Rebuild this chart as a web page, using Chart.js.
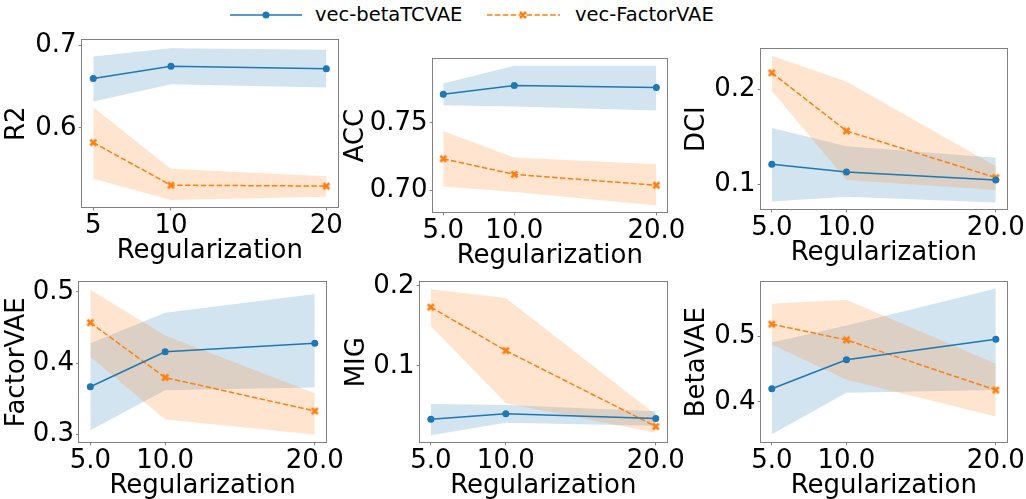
<!DOCTYPE html>
<html lang="en">
<head>
    <meta charset="UTF-8">
    <title>Regularization sweep</title>
    <script src="https://cdn.jsdelivr.net/npm/chart.js"></script>
    <style>
        * { margin: 0; padding: 0; box-sizing: border-box; }
        body {
            width: 1026px;
            height: 499px;
            overflow: hidden;
            background: #fff;
            position: relative;
            font-family: 'DejaVu Sans', sans-serif;
        }
        canvas { position: absolute; }
        .legend-line { position: absolute; top: 5px; }
        .legend-text {
            position: absolute;
            top: 2px;
            font-size: 19.5px;
            line-height: 26px;
            color: #000;
            white-space: nowrap;
        }
    </style>
</head>
<body>
    <svg class="legend-line" style="left:230px" width="72" height="20">
        <line x1="0" y1="10" x2="72" y2="10" stroke="#1f77b4" stroke-width="1.5"/>
        <circle cx="36" cy="10" r="3.5" fill="#1f77b4"/>
    </svg>
    <div class="legend-text" style="left:315px">vec-betaTCVAE</div>
    <svg class="legend-line" style="left:487px" width="73" height="20">
        <line x1="0" y1="10" x2="73" y2="10" stroke="#ff7f0e" stroke-width="1.5" stroke-dasharray="5.5 2.4"/>
        <path d="M33,7 L36,10 L39,7 M33,13 L36,10 L39,13" stroke="#ff7f0e" stroke-width="2.6" fill="none"/>
    </svg>
    <div class="legend-text" style="left:575px">vec-FactorVAE</div>

    <script>
        // x values (regularization strength)
        const X_VALUES = [5, 10, 20];
        const X_LABELS_INT = ['5', '10', '20'];
        const X_LABELS = ['5.0', '10.0', '20.0'];

        // R2
        const R2_TC = [0.660, 0.675, 0.672];
        const R2_TC_LO = [0.632, 0.653, 0.649];
        const R2_TC_HI = [0.687, 0.697, 0.695];
        const R2_FA = [0.582, 0.530, 0.529];
        const R2_FA_LO = [0.538, 0.512, 0.516];
        const R2_FA_HI = [0.625, 0.550, 0.541];
        const R2_TICKS = [0.6, 0.7];
        const R2_TICK_LABELS = ['0.6', '0.7'];

        // ACC
        const ACC_TC = [0.771, 0.7775, 0.776];
        const ACC_TC_LO = [0.763, 0.762, 0.759];
        const ACC_TC_HI = [0.779, 0.792, 0.792];
        const ACC_FA = [0.7235, 0.712, 0.704];
        const ACC_FA_LO = [0.703, 0.699, 0.689];
        const ACC_FA_HI = [0.744, 0.7245, 0.7195];
        const ACC_TICKS = [0.70, 0.75];
        const ACC_TICK_LABELS = ['0.70', '0.75'];

        // DCI
        const DCI_TC = [0.121, 0.113, 0.1045];
        const DCI_TC_LO = [0.082, 0.087, 0.081];
        const DCI_TC_HI = [0.159, 0.140, 0.128];
        const DCI_FA = [0.217, 0.156, 0.107];
        const DCI_FA_LO = [0.198, 0.1045, 0.094];
        const DCI_FA_HI = [0.235, 0.208, 0.119];
        const DCI_TICKS = [0.1, 0.2];
        const DCI_TICK_LABELS = ['0.1', '0.2'];

        // FactorVAE score
        const FVAE_TC = [0.367, 0.416, 0.428];
        const FVAE_TC_LO = [0.306, 0.362, 0.366];
        const FVAE_TC_HI = [0.428, 0.471, 0.497];
        const FVAE_FA = [0.457, 0.380, 0.333];
        const FVAE_FA_LO = [0.409, 0.321, 0.300];
        const FVAE_FA_HI = [0.503, 0.439, 0.358];
        const FVAE_TICKS = [0.3, 0.4, 0.5];
        const FVAE_TICK_LABELS = ['0.3', '0.4', '0.5'];

        // MIG
        const MIG_TC = [0.033, 0.040, 0.034];
        const MIG_TC_LO = [0.013, 0.0285, 0.025];
        const MIG_TC_HI = [0.052, 0.051, 0.043];
        const MIG_FA = [0.1735, 0.119, 0.024];
        const MIG_FA_LO = [0.150, 0.053, 0.016];
        const MIG_FA_HI = [0.196, 0.185, 0.039];
        const MIG_TICKS = [0.1, 0.2];
        const MIG_TICK_LABELS = ['0.1', '0.2'];

        // BetaVAE score
        const BVAE_TC = [0.420, 0.464, 0.495];
        const BVAE_TC_LO = [0.351, 0.414, 0.418];
        const BVAE_TC_HI = [0.490, 0.516, 0.572];
        const BVAE_FA = [0.518, 0.494, 0.418];
        const BVAE_FA_LO = [0.487, 0.4335, 0.378];
        const BVAE_FA_HI = [0.549, 0.555, 0.458];
        const BVAE_TICKS = [0.4, 0.5];
        const BVAE_TICK_LABELS = ['0.4', '0.5'];

        const BLUE = '#1f77b4';
        const ORANGE = '#ff7f0e';
        const BLUE_FILL = 'rgba(31,119,180,0.2)';
        const ORANGE_FILL = 'rgba(255,127,14,0.2)';
        const FONT = { family: 'DejaVu Sans', size: 26 };
        const PT = 20, PR = 34, HX = 59.6;

        Chart.defaults.font.family = 'DejaVu Sans';

        // filled "X" marker like matplotlib's 'X'
        const xMarker = document.createElement('canvas');
        xMarker.width = 9; xMarker.height = 9;
        (function () {
            const c = xMarker.getContext('2d');
            c.strokeStyle = ORANGE;
            c.lineWidth = 2.6;
            c.beginPath();
            c.moveTo(1.5, 1.5); c.lineTo(7.5, 7.5);
            c.moveTo(7.5, 1.5); c.lineTo(1.5, 7.5);
            c.stroke();
        })();

        const panels = [
            { title: 'R2', tc: R2_TC, tcLo: R2_TC_LO, tcHi: R2_TC_HI, fa: R2_FA, faLo: R2_FA_LO, faHi: R2_FA_HI,
              ticks: R2_TICKS, tickLabels: R2_TICK_LABELS, xLabels: X_LABELS_INT,
              yMin: 0.503, yMax: 0.707, box: [82, 40, 338, 207], wy: 79.6 },
            { title: 'ACC', tc: ACC_TC, tcLo: ACC_TC_LO, tcHi: ACC_TC_HI, fa: ACC_FA, faLo: ACC_FA_LO, faHi: ACC_FA_HI,
              ticks: ACC_TICKS, tickLabels: ACC_TICK_LABELS, xLabels: X_LABELS,
              yMin: 0.684, yMax: 0.797, box: [433, 59, 667, 212], wy: 91.6 },
            { title: 'DCI', tc: DCI_TC, tcLo: DCI_TC_LO, tcHi: DCI_TC_HI, fa: DCI_FA, faLo: DCI_FA_LO, faHi: DCI_FA_HI,
              ticks: DCI_TICKS, tickLabels: DCI_TICK_LABELS, xLabels: X_LABELS,
              yMin: 0.0737, yMax: 0.242, box: [761, 49, 1007, 209], wy: 78.6 },
            { title: 'FactorVAE', tc: FVAE_TC, tcLo: FVAE_TC_LO, tcHi: FVAE_TC_HI, fa: FVAE_FA, faLo: FVAE_FA_LO, faHi: FVAE_FA_HI,
              ticks: FVAE_TICKS, tickLabels: FVAE_TICK_LABELS, xLabels: X_LABELS,
              yMin: 0.289, yMax: 0.514, box: [79, 282, 326, 442], wy: 77.1 },
            { title: 'MIG', tc: MIG_TC, tcLo: MIG_TC_LO, tcHi: MIG_TC_HI, fa: MIG_FA, faLo: MIG_FA_LO, faHi: MIG_FA_HI,
              ticks: MIG_TICKS, tickLabels: MIG_TICK_LABELS, xLabels: X_LABELS,
              yMin: 0.004, yMax: 0.205, box: [420, 282, 667, 442], wy: 77.6 },
            { title: 'BetaVAE', tc: BVAE_TC, tcLo: BVAE_TC_LO, tcHi: BVAE_TC_HI, fa: BVAE_FA, faLo: BVAE_FA_LO, faHi: BVAE_FA_HI,
              ticks: BVAE_TICKS, tickLabels: BVAE_TICK_LABELS, xLabels: X_LABELS,
              yMin: 0.3385, yMax: 0.582, box: [761, 282, 1007, 442], wy: 78.6 }
        ];

        const pts = ys => X_VALUES.map((x, i) => ({ x: x, y: ys[i] }));

        // full box round the plot area (matplotlib spines)
        const frame = {
            id: 'frame',
            afterDraw(chart) {
                const a = chart.chartArea, ctx = chart.ctx;
                ctx.save();
                ctx.strokeStyle = '#808080';
                ctx.lineWidth = 1;
                ctx.strokeRect(Math.round(a.left) - 0.5, Math.round(a.top) - 0.5,
                    Math.round(a.right - a.left) + 1, Math.round(a.bottom - a.top) + 1);
                ctx.restore();
            }
        };

        panels.forEach(p => {
            const [L, T, R, B] = p.box;
            const cv = document.createElement('canvas');
            cv.width = Math.round(p.wy + (R - L) + PR);
            cv.height = Math.round(PT + (B - T) + HX);
            cv.style.left = (L - p.wy) + 'px';
            cv.style.top = (T - PT) + 'px';
            document.body.appendChild(cv);

            const band = (data, color, target) => ({
                data: pts(data), borderColor: 'transparent', borderWidth: 0, pointRadius: 0,
                backgroundColor: color, fill: target === undefined ? false : target
            });

            new Chart(cv, {
                type: 'line',
                data: {
                    datasets: [
                        { data: pts(p.tc), borderColor: BLUE, borderWidth: 1.5, pointRadius: 3.5,
                          pointBackgroundColor: BLUE, pointBorderWidth: 0, fill: false },
                        { data: pts(p.fa), borderColor: ORANGE, borderWidth: 1.5, borderDash: [5.5, 2.4],
                          pointStyle: xMarker, pointRadius: 4, fill: false },
                        band(p.faHi, ORANGE_FILL, 3),
                        band(p.faLo, ORANGE_FILL),
                        band(p.tcHi, BLUE_FILL, 5),
                        band(p.tcLo, BLUE_FILL)
                    ]
                },
                options: {
                    responsive: false,
                    animation: false,
                    events: [],
                    layout: { padding: { top: PT, right: PR, left: 0, bottom: 0 } },
                    plugins: { legend: { display: false }, tooltip: { enabled: false } },
                    scales: {
                        x: {
                            type: 'linear', min: 4.25, max: 20.75,
                            afterBuildTicks: s => { s.ticks = X_VALUES.map(v => ({ value: v })); },
                            afterFit: s => { s.height = HX; s.paddingLeft = 0; s.paddingRight = 0; },
                            ticks: { font: FONT, color: '#000', padding: 0, maxRotation: 0, autoSkip: false,
                                     callback: (v, i) => p.xLabels[i] },
                            grid: { drawOnChartArea: false, tickLength: 3, color: '#808080' },
                            border: { display: false },
                            title: { display: true, text: 'Regularization', font: FONT, color: '#000', padding: 0 }
                        },
                        y: {
                            min: p.yMin, max: p.yMax,
                            afterBuildTicks: s => { s.ticks = p.ticks.map(v => ({ value: v })); },
                            afterFit: s => { s.width = p.wy; s.paddingTop = 0; s.paddingBottom = 0; },
                            ticks: { font: FONT, color: '#000', padding: 2, autoSkip: false,
                                     callback: (v, i) => p.tickLabels[i] },
                            grid: { drawOnChartArea: false, tickLength: 3, color: '#808080' },
                            border: { display: false },
                            title: { display: true, text: p.title, font: FONT, color: '#000', padding: 0 }
                        }
                    }
                },
                plugins: [frame]
            });
        });
    </script>
</body>
</html>
